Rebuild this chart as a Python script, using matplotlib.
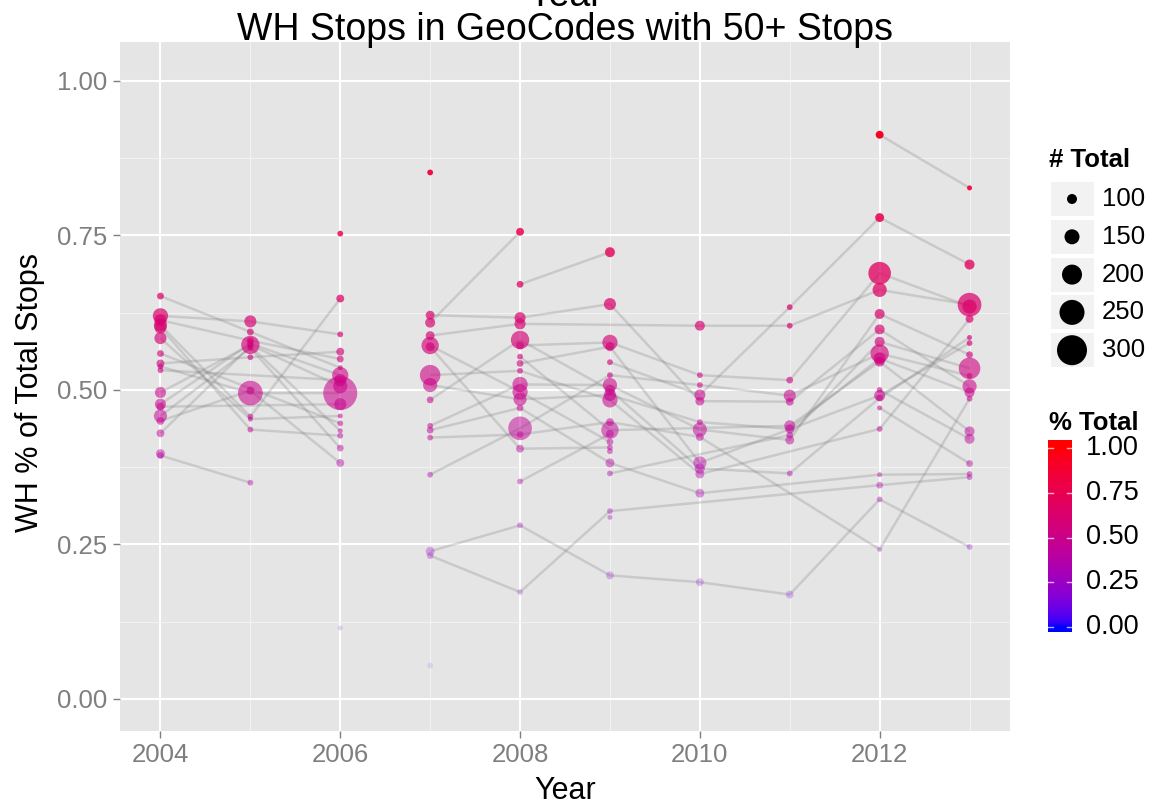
import numpy as np
import pandas as pd
import matplotlib
matplotlib.use('Agg')
import matplotlib.pyplot as plt
from matplotlib.patches import Rectangle

plt.rcParams['font.family'] = ['Liberation Sans', 'DejaVu Sans']

years = [2004, 2005, 2006, 2007, 2008, 2009, 2010, 2011, 2012, 2013]

# geocode id, WH share of stops, total stops -- one set of lists per year
geo_2004 = [1, 2, 3, 4, 5, 6, 16, 7, 8, 14, 9, 10, 15, 11, 12, 17, 18, 13]
pct_2004 = [.652, .620, .613, .605, .601, .584, .559, .543, .538, .532, .496, .477, .473, .458, .450, .430, .397, .394]
tot_2004 = [68, 153, 121, 132, 121, 121, 68, 79, 58, 58, 111, 111, 79, 132, 79, 79, 89, 68]

geo_2005 = [2, 1, 3, 9, 10, 11, 17, 7, 12, 8, 4, 6, 5, 13]
pct_2005 = [.611, .594, .580, .573, .575, .568, .571, .553, .499, .495, .457, .453, .436, .350]
tot_2005 = [121, 68, 68, 184, 68, 58, 58, 58, 79, 247, 58, 50, 58, 58]

geo_2006 = [19, 4, 2, 7, 3, 1, 10, 14, 9, 8, 15, 6, 16, 17, 5, 11, 12, 20]
pct_2006 = [.753, .648, .590, .562, .550, .536, .524, .516, .506, .495, .477, .458, .446, .434, .426, .406, .382, .115]
tot_2006 = [58, 79, 58, 79, 68, 50, 163, 121, 142, 340, 121, 50, 58, 50, 58, 68, 79, 50]

geo_2007 = [45, 31, 32, 33, 34, 35, 36, 37, 38, 39, 40, 41, 42, 43, 44, 46]
pct_2007 = [.852, .621, .609, .588, .572, .570, .524, .508, .484, .442, .435, .423, .363, .239, .232, .054]
tot_2007 = [58, 89, 100, 89, 174, 89, 205, 142, 68, 58, 68, 58, 58, 89, 68, 58]

geo_2008 = [32, 47, 31, 33, 38, 48, 49, 50, 36, 39, 34, 37, 40, 42, 41, 35, 51, 43, 44]
pct_2008 = [.756, .671, .617, .607, .581, .572, .554, .543, .531, .509, .497, .485, .471, .438, .428, .405, .352, .281, .173]
tot_2008 = [79, 68, 111, 111, 184, 79, 58, 68, 58, 153, 153, 132, 68, 237, 68, 79, 58, 58, 58]

geo_2009 = [47, 31, 48, 50, 52, 42, 39, 38, 37, 36, 41, 49, 51, 34, 35, 54, 40, 53, 44, 55, 43]
pct_2009 = [.723, .639, .577, .570, .545, .524, .508, .500, .492, .484, .448, .435, .429, .416, .407, .401, .382, .365, .304, .294, .200]
tot_2009 = [100, 121, 153, 89, 58, 58, 142, 100, 121, 153, 79, 174, 79, 68, 58, 58, 89, 58, 58, 50, 79]

geo_2010 = [33, 48, 42, 52, 31, 37, 39, 41, 50, 38, 36, 40, 43]
pct_2010 = [.604, .524, .508, .492, .482, .448, .436, .424, .382, .373, .364, .333, .189]
tot_2010 = [100, 58, 58, 111, 89, 58, 142, 79, 132, 100, 89, 89, 79]

geo_2011 = [52, 33, 48, 42, 31, 49, 37, 53, 39, 38, 43]
pct_2011 = [.634, .604, .516, .491, .481, .442, .437, .427, .419, .365, .169]
tot_2011 = [58, 58, 68, 121, 79, 111, 89, 68, 89, 58, 79]

geo_2012 = [56, 52, 48, 33, 39, 31, 53, 42, 37, 49, 57, 50, 38, 58, 36, 40, 44, 43, 41]
pct_2012 = [.913, .779, .689, .662, .623, .598, .578, .559, .551, .546, .500, .491, .487, .471, .437, .363, .346, .323, .242]
tot_2012 = [79, 89, 226, 142, 100, 100, 100, 184, 121, 100, 58, 111, 68, 50, 58, 50, 68, 58, 50]

geo_2013 = [56, 52, 33, 48, 36, 38, 50, 39, 53, 42, 31, 37, 41, 49, 57, 58, 40, 44, 43]
pct_2013 = [.827, .703, .638, .635, .615, .585, .576, .557, .535, .523, .506, .496, .486, .433, .421, .381, .364, .359, .246]
tot_2013 = [50, 100, 237, 142, 79, 50, 58, 68, 216, 58, 142, 100, 58, 100, 100, 68, 58, 58, 58]

size_breaks = [100, 150, 200, 250, 300]
pct_breaks = [0.0, 0.25, 0.5, 0.75, 1.0]

geo_lists = [geo_2004, geo_2005, geo_2006, geo_2007, geo_2008, geo_2009, geo_2010, geo_2011, geo_2012, geo_2013]
pct_lists = [pct_2004, pct_2005, pct_2006, pct_2007, pct_2008, pct_2009, pct_2010, pct_2011, pct_2012, pct_2013]
tot_lists = [tot_2004, tot_2005, tot_2006, tot_2007, tot_2008, tot_2009, tot_2010, tot_2011, tot_2012, tot_2013]

rows = []
for yr, gs, ps, ts in zip(years, geo_lists, pct_lists, tot_lists):
    for g, p, t in zip(gs, ps, ts):
        rows.append((yr, g, p, t))
df = pd.DataFrame(rows, columns=['year', 'geo', 'pct', 'total'])

# blue -> red gradient interpolated in Lab, like ggplot's scale_colour_gradient
M = np.array([[0.4124, 0.3576, 0.1805], [0.2126, 0.7152, 0.0722], [0.0193, 0.1192, 0.9505]])
WHITE = np.array([0.95047, 1.0, 1.08883])


def to_lab(rgb):
    c = np.asarray(rgb, float)
    lin = np.where(c <= 0.04045, c / 12.92, ((c + 0.055) / 1.055) ** 2.4)
    xyz = M @ lin / WHITE
    f = np.where(xyz > (6 / 29) ** 3, np.cbrt(xyz), xyz / (3 * (6 / 29) ** 2) + 4 / 29)
    return np.array([116 * f[1] - 16, 500 * (f[0] - f[1]), 200 * (f[1] - f[2])])


def from_lab(lab):
    L, a, b = lab
    fy = (L + 16) / 116
    f = np.array([fy + a / 500, fy, fy - b / 200])
    xyz = np.where(f > 6 / 29, f ** 3, 3 * (6 / 29) ** 2 * (f - 4 / 29)) * WHITE
    lin = np.clip(np.linalg.inv(M) @ xyz, 0, 1)
    c = np.where(lin <= 0.0031308, 12.92 * lin, 1.055 * lin ** (1 / 2.4) - 0.055)
    return np.clip(c, 0, 1)


LAB_LO = to_lab((0, 0, 1))
LAB_HI = to_lab((1, 0, 0))


def pct_color(p):
    return from_lab(LAB_LO + p * (LAB_HI - LAB_LO))


def pct_alpha(p):
    lo, hi = df.pct.min(), df.pct.max()
    return 0.1 + 0.9 * (p - lo) / (hi - lo)


def size_pts(total):
    # diameter in pixels ~ total / 10, converted to points^2 at 100 dpi
    return (total / 10 * 0.72) ** 2


fig = plt.figure(figsize=(11.65, 8.06), dpi=100)
ax = fig.add_axes([120 / 1165, 75 / 806, 890 / 1165, 689 / 806])
ax.set_facecolor('#E5E5E5')
for s in ax.spines.values():
    s.set_visible(False)

for g, grp in df.sort_values('year').groupby('geo'):
    if len(grp) > 1:
        ax.plot(grp.year, grp.pct, color='#7F7F7F', alpha=0.27, lw=1.8, zorder=2,
                solid_capstyle='butt')

pts = df.sort_values('total', ascending=False)
cols = np.array([np.append(pct_color(p), pct_alpha(p)) for p in pts.pct])
ax.scatter(pts.year, pts.pct, s=size_pts(pts.total), c=cols, edgecolors='none', zorder=3)

ax.set_xlim(2003.55, 2013.45)
ax.set_ylim(-0.0518, 1.0631)
ax.set_xticks([2004, 2006, 2008, 2010, 2012])
ax.set_xticks([2005, 2007, 2009, 2011, 2013], minor=True)
ax.set_yticks([0, 0.25, 0.5, 0.75, 1.0])
ax.set_yticklabels(['0.00', '0.25', '0.50', '0.75', '1.00'])
ax.set_yticks([0.125, 0.375, 0.625, 0.875], minor=True)
ax.grid(which='major', color='white', lw=1.5)
ax.grid(which='minor', color='#F2F2F2', lw=0.8)
ax.set_axisbelow(True)
ax.tick_params(which='major', length=5, width=1, color='#7F7F7F', labelcolor='#7F7F7F',
               labelsize=18.5, pad=4)
ax.tick_params(which='minor', length=0)

fig.text(565 / 1165, 1 - 40 / 806, 'WH Stops in GeoCodes with 50+ Stops', ha='center',
         va='baseline', fontsize=27)
fig.text(565 / 1165, 1 - 6 / 806, 'Year', ha='center', va='baseline', fontsize=27)
fig.text(565 / 1165, 1 - 799 / 806, 'Year', ha='center', va='baseline', fontsize=22)
fig.text(30 / 1165, 1 - 392 / 806, 'WH % of Total Stops', ha='center', va='center',
         rotation=90, fontsize=22)

# legends, drawn in pixel coordinates
leg = fig.add_axes([0, 0, 1, 1], zorder=5)
leg.patch.set_alpha(0)
leg.set_xlim(0, 1165)
leg.set_ylim(806, 0)
leg.axis('off')

leg.text(1049, 160, '# Total', fontsize=18.5, fontweight='bold', va='center', ha='left')
for i, b in enumerate(size_breaks):
    cy = 199 + 37.8 * i
    leg.add_patch(Rectangle((1051, cy - 17), 43, 34, fc='#F2F2F2', ec='none'))
    leg.scatter([1072], [cy], s=size_pts(b), color='black', edgecolors='none')
    leg.text(1102, cy, str(b), fontsize=18.5, va='center', ha='left')

leg.text(1049, 423, '% Total', fontsize=18.5, fontweight='bold', va='center', ha='left')
y0, y1 = 626.7, 448.3
bx0, bw = 1048, 24
grad = np.linspace(-0.03, 1.04, 120)
step = grad[1] - grad[0]
for v in grad:
    leg.add_patch(Rectangle((bx0, y0 + (y1 - y0) * (v + step)), bw, (y0 - y1) * step + 0.3,
                            fc=pct_color(min(max(v, 0), 1)), ec='none'))
for v in pct_breaks:
    yv = y0 + (y1 - y0) * v
    leg.plot([bx0, bx0 + bw / 5], [yv, yv], color='white', lw=1, alpha=0.7)
    leg.plot([bx0 + bw * 4 / 5, bx0 + bw], [yv, yv], color='white', lw=1, alpha=0.7)
    leg.text(1086, yv, f'{v:.2f}', fontsize=19.5, va='center', ha='left')

fig.savefig('out.png', dpi=100)
